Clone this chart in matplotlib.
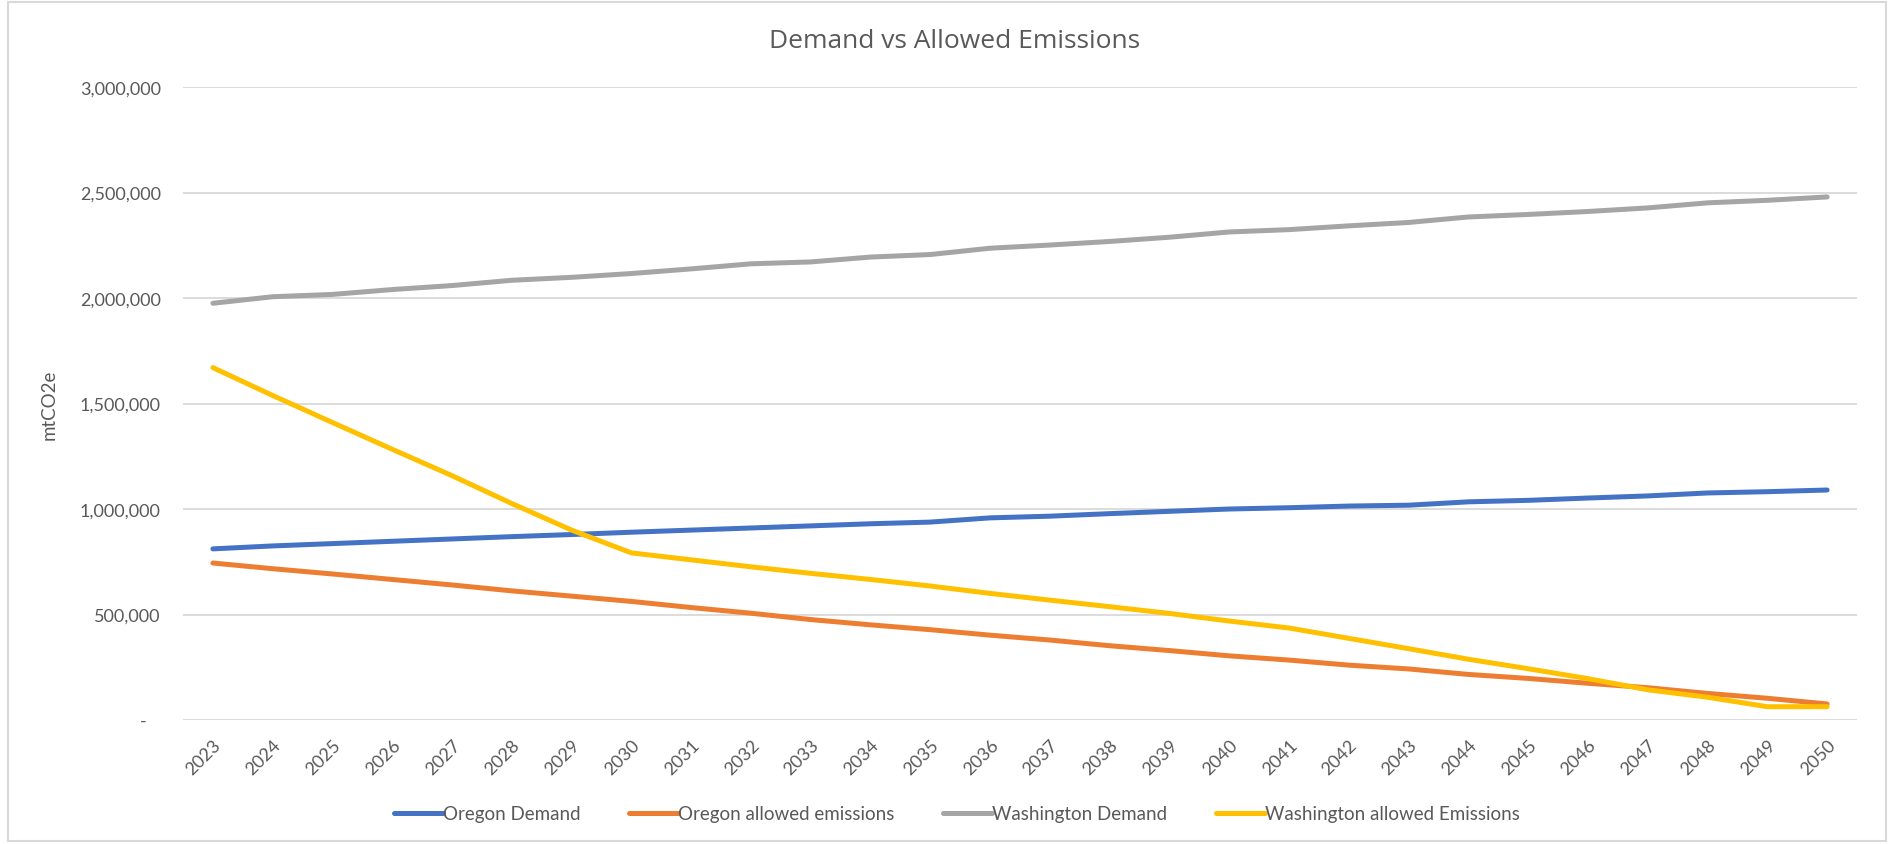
import matplotlib.pyplot as plt
from matplotlib.patches import Rectangle

years = [str(y) for y in range(2023, 2051)]

oregon_demand = [811000, 825000, 836000, 847000, 858000, 869000, 879000, 890000,
                 900000, 910000, 920000, 930000, 938000, 958000, 966000, 978000,
                 989000, 1000000, 1006000, 1014000, 1018000, 1034000, 1041000,
                 1052000, 1062000, 1076000, 1082000, 1090000]
oregon_allowed = [744000, 717000, 692000, 666000, 640000, 612000, 587000, 562000,
                  533000, 506000, 476000, 451000, 428000, 402000, 379000, 352000,
                  329000, 304000, 284000, 260000, 242000, 216000, 197000, 174000,
                  153000, 126000, 103000, 76000]
washington_demand = [1975000, 2006000, 2017000, 2040000, 2059000, 2084000, 2098000,
                     2116000, 2138000, 2162000, 2171000, 2194000, 2206000, 2236000,
                     2251000, 2268000, 2288000, 2313000, 2324000, 2342000, 2358000,
                     2384000, 2396000, 2410000, 2427000, 2451000, 2463000, 2479000]
washington_allowed = [1670000, 1538000, 1410000, 1283000, 1158000, 1026000, 900000,
                      792000, 759000, 726000, 695000, 666000, 635000, 600000, 568000,
                      537000, 505000, 469000, 436000, 387000, 338000, 288000, 243000,
                      196000, 143000, 108000, 63000, 63000]

series = [
    ("Oregon Demand", oregon_demand, "#4472C4"),
    ("Oregon allowed emissions", oregon_allowed, "#ED7D31"),
    ("Washington Demand", washington_demand, "#A5A5A5"),
    ("Washington allowed Emissions", washington_allowed, "#FFC000"),
]

yticks = [0, 500000, 1000000, 1500000, 2000000, 2500000, 3000000]
ytick_labels = ["-   ", "500,000", "1,000,000", "1,500,000", "2,000,000",
                "2,500,000", "3,000,000"]

text_col = "#595959"
grid_col = "#D9D9D9"
plt.rcParams['font.family'] = ['Lato', 'DejaVu Sans']

W, H = 1893, 845
fig = plt.figure(figsize=(W / 100, H / 100), dpi=100)
ax = fig.add_axes([183 / W, 1 - 721 / H, (1857 - 183) / W, (721 - 88) / H])

x = range(len(years))
for name, vals, col in series:
    ax.plot(x, vals, color=col, lw=3.6, label=name, solid_capstyle='round',
            solid_joinstyle='round')

ax.set_xlim(-0.5, len(years) - 0.5)
ax.set_ylim(0, 3000000)
ax.set_yticks(yticks)
ax.set_yticklabels(ytick_labels)
ax.set_xticks(list(x))
ax.set_xticklabels(years, rotation=45, ha='right', rotation_mode='anchor')
ax.tick_params(axis='both', length=0, colors=text_col, labelsize=13)
ax.tick_params(axis='y', pad=16)
ax.tick_params(axis='x', pad=12)
ax.grid(axis='y', color=grid_col, lw=1.3)
ax.set_axisbelow(True)
for s in ax.spines.values():
    s.set_visible(False)

ax.set_ylabel("mtCO2e", color=text_col, fontsize=13.5, labelpad=16)

fig.text(955 / W, 1 - 42 / H, "Demand vs Allowed Emissions", ha='center', va='center',
         fontsize=19, color=text_col, family=['Open Sans', 'DejaVu Sans'])

fig.legend(loc='center', bbox_to_anchor=(957 / W, 1 - 815 / H), ncol=4, frameon=False,
           fontsize=13.5, handlelength=2.6, handletextpad=0.0, columnspacing=2.6,
           labelcolor=text_col)

fig.patches.append(Rectangle((8 / W, 3 / H), (1886 - 8) / W, (842 - 3) / H,
                             transform=fig.transFigure, fill=False,
                             edgecolor=grid_col, lw=1.5))

fig.savefig('out.png', dpi=100)
plt.close()
